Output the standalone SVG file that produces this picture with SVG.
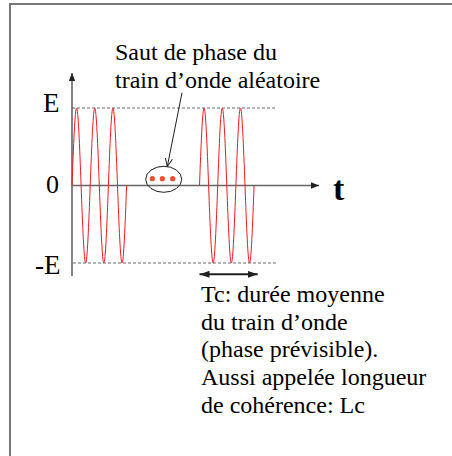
<svg xmlns="http://www.w3.org/2000/svg" width="452" height="456" viewBox="0 0 452 456">
<style>
.wave{fill:none;stroke:#ec1c24;stroke-width:1}
.dash{stroke:#444;stroke-width:0.8;stroke-dasharray:3 2;fill:none}
.axis{stroke:#666;stroke-width:1.6;fill:none}
</style>
<defs>
<path id="period" d="M0,0 c1.482,-39.66 2.965,-77.5 4.55,-77.5 c1.585,0 3.068,37.84 4.55,77.5 c1.482,39.66 2.965,77.5 4.55,77.5 c1.585,0 3.068,-37.84 4.55,-77.5"/>
<marker id="tri" viewBox="0 0 10 10" refX="10" refY="5" markerWidth="8" markerHeight="8" markerUnits="userSpaceOnUse" orient="auto-start-reverse">
<path d="M0,1 L10,5 L0,9 z" fill="#231f20"/>
</marker>
<marker id="tri2" viewBox="0 0 10 10" refX="10" refY="5" markerWidth="10" markerHeight="10" markerUnits="userSpaceOnUse" orient="auto-start-reverse">
<path d="M0,1.5 L10,5 L0,8.5 z" fill="#231f20"/>
</marker>
<marker id="open" viewBox="0 0 10 10" refX="9" refY="5" markerWidth="9" markerHeight="9" markerUnits="userSpaceOnUse" orient="auto">
<path d="M0,1 L9,5 L0,9" fill="none" stroke="#231f20" stroke-width="1.1"/>
</marker>
</defs>
<rect id="frame" x="10" y="4" width="460" height="470" fill="none" stroke="#777" stroke-width="2"/>
<g id="axes">
<line class="axis" x1="72" y1="276" x2="72" y2="73" marker-end="url(#tri)"/>
<line class="axis" x1="72" y1="185.5" x2="319" y2="185.5" marker-end="url(#tri)"/>
<line class="dash" x1="72" y1="108" x2="275" y2="108"/>
<line class="dash" x1="73" y1="263" x2="278" y2="263"/>
</g>
<g id="wave1" class="wave">
<use href="#period" transform="translate(72,185.5)"/>
<use href="#period" transform="translate(90.2,185.5)"/>
<use href="#period" transform="translate(108.4,185.5)"/>
</g>
<g id="wave2" class="wave">
<use href="#period" transform="translate(199.5,185.5)"/>
<use href="#period" transform="translate(217.7,185.5)"/>
<use href="#period" transform="translate(235.9,185.5)"/>
</g>
<g id="phase-jump">
<ellipse cx="163.7" cy="179.3" rx="18" ry="13" fill="none" stroke="#231f20" stroke-width="1"/>
<circle cx="152.3" cy="178.7" r="2.6" fill="#f04e30"/>
<circle cx="162.3" cy="178.7" r="2.6" fill="#f04e30"/>
<circle cx="172.7" cy="178.7" r="2.6" fill="#f04e30"/>
</g>
<g id="connectors">
<line x1="182" y1="92.7" x2="167.3" y2="166.5" stroke="#231f20" stroke-width="1" marker-end="url(#open)"/>
<line x1="199.5" y1="274.3" x2="257.7" y2="274.3" stroke="#231f20" stroke-width="2" marker-start="url(#tri2)" marker-end="url(#tri2)"/>
</g>
<text id="label-E" x="43" y="111.5" font-size="27" font-family="Times New Roman, Liberation Serif, Tinos, serif">E</text>
<text id="label-0" x="46" y="193" font-size="26" font-family="Times New Roman, Liberation Serif, Tinos, serif">0</text>
<text id="label-minusE" x="35" y="274" font-size="27" font-family="Times New Roman, Liberation Serif, Tinos, serif">-E</text>
<text id="label-t" x="333" y="200" font-size="34" font-weight="bold" font-family="Times New Roman, Liberation Serif, Tinos, serif">t</text>
<text id="title-1" x="115" y="59.5" font-size="24" font-family="Times New Roman, Liberation Serif, Tinos, serif">Saut de phase du</text>
<text id="title-2" x="115" y="87.5" font-size="24" font-family="Times New Roman, Liberation Serif, Tinos, serif">train d’onde aléatoire</text>
<text id="tc-1" x="201" y="301.7" font-size="24" font-family="Times New Roman, Liberation Serif, Tinos, serif">Tc: durée moyenne</text>
<text id="tc-2" x="201" y="330" font-size="24" font-family="Times New Roman, Liberation Serif, Tinos, serif">du train d’onde</text>
<text id="tc-3" x="201" y="357.3" font-size="24" font-family="Times New Roman, Liberation Serif, Tinos, serif">(phase prévisible).</text>
<text id="tc-4" x="201" y="385" font-size="24" font-family="Times New Roman, Liberation Serif, Tinos, serif">Aussi appelée longueur</text>
<text id="tc-5" x="201" y="412.7" font-size="24" font-family="Times New Roman, Liberation Serif, Tinos, serif">de cohérence: Lc</text>
</svg>
